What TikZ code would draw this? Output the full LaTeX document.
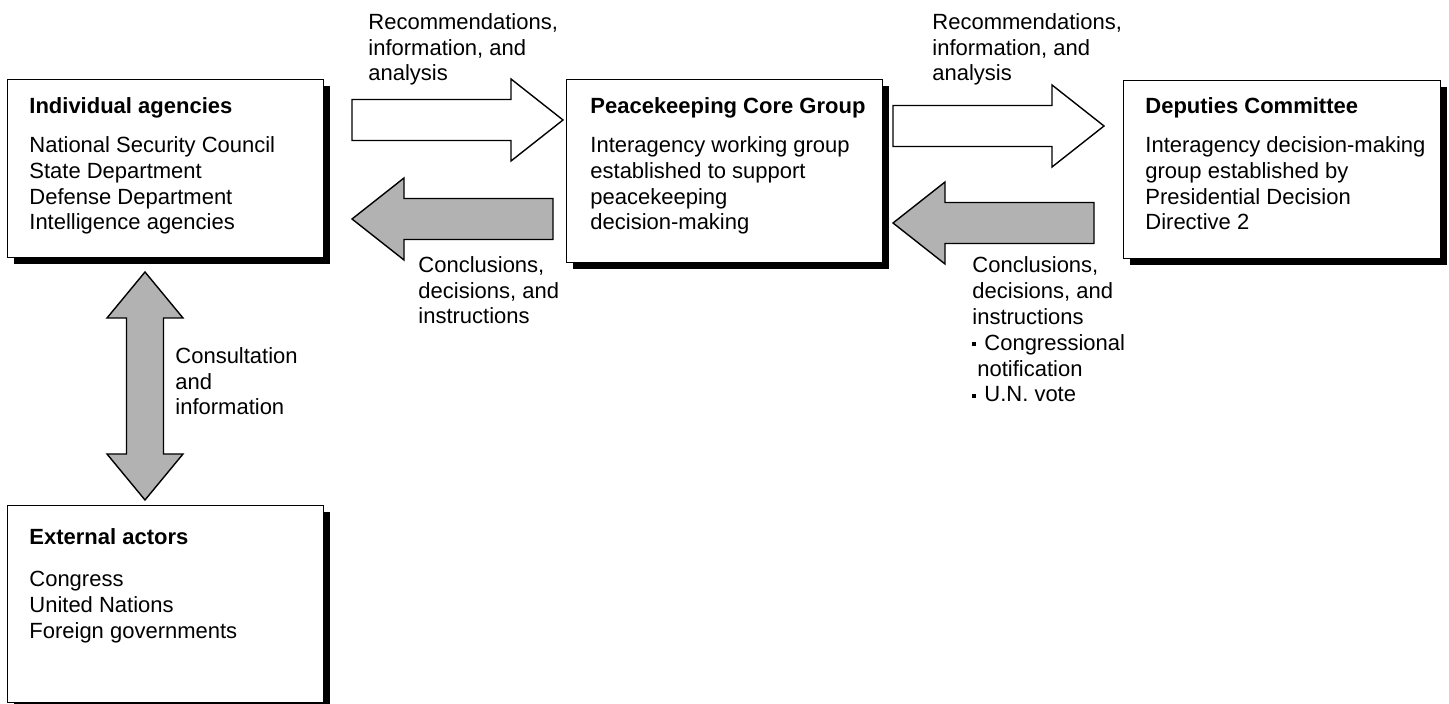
\documentclass[tikz,border=0pt]{standalone}
\usepackage{fontspec}
\setmainfont{Liberation Sans}
\usetikzlibrary{calc,shadows}

\tikzset{
  card/.style={draw, fill=white, line width=0.7pt, inner sep=0pt, anchor=north west,
    drop shadow={shadow xshift=3pt, shadow yshift=-3pt, fill=black, opacity=1}},
  lbl/.style={anchor=base west, align=left, inner sep=0pt},
  fwdarrow/.style={draw, line width=0.7pt, line join=miter, fill=white},
  backarrow/.style={fwdarrow, fill=black!30},
}
% block arrow from #2 (tail) to #3 (tip)
\newcommand{\bigarrow}[3]{%
  \coordinate (ah) at ($(#3)!26pt!(#2)$);
  \draw[#1] ($(#2)!10.25pt!90:(#3)$) -- ($(ah)!10.25pt!-90:(#2)$) -- ($(ah)!20.5pt!-90:(#2)$)
    -- (#3) -- ($(ah)!20.5pt!90:(#2)$) -- ($(ah)!10.25pt!90:(#2)$) -- ($(#2)!10.25pt!-90:(#3)$) -- cycle;
}
\newcommand{\sqbullet}{\rule[2pt]{2pt}{2pt}\hspace{4pt}}

\begin{document}
\begin{tikzpicture}[x=0.5pt, y=-0.5pt, font=\fontsize{11}{12.9}\selectfont]
	\useasboundingbox (0,0) rectangle (1449,704);
	% boxes
	\node[card, minimum width=158pt, minimum height=89pt] (ia) at (7,79) {};
	\node[card, minimum width=158pt, minimum height=91.5pt] (pcg) at (566,79) {};
	\node[card, minimum width=158.5pt, minimum height=89pt] (dc) at (1123,80) {};
	\node[card, minimum width=158pt, minimum height=98.5pt] (ea) at (7,505) {};
	% texts sit on the baseline of their last line
	\node[lbl] (ia-text) at ($(ia.north west)+(22,151)$) {\textbf{Individual agencies}\\[6.5pt]
		National Security Council\\State Department\\Defense Department\\Intelligence agencies};
	\node[lbl] (pcg-text) at ($(pcg.north west)+(24,151)$) {\textbf{Peacekeeping Core Group}\\[6.5pt]
		Interagency working group\\established to support\\peacekeeping\\decision-making};
	\node[lbl] (dc-text) at ($(dc.north west)+(22,150)$) {\textbf{Deputies Committee}\\[6.5pt]
		Interagency decision-making\\group established by\\Presidential Decision\\Directive 2};
	\node[lbl] (ea-text) at ($(ea.north west)+(22,133)$) {\textbf{External actors}\\[8pt]
		Congress\\United Nations\\Foreign governments};
	% arrows
	\coordinate (r1-tail) at (352,120);
	\coordinate (r1-tip) at (563,120);
	\coordinate (c1-tail) at (553,219);
	\coordinate (c1-tip) at (352,219);
	\coordinate (r2-tail) at (893,126);
	\coordinate (r2-tip) at (1104,126);
	\coordinate (c2-tail) at (1094,223);
	\coordinate (c2-tip) at (893,223);
	\bigarrow{fwdarrow}{r1-tail}{r1-tip}
	\bigarrow{backarrow}{c1-tail}{c1-tip}
	\bigarrow{fwdarrow}{r2-tail}{r2-tip}
	\bigarrow{backarrow}{c2-tail}{c2-tip}
	\coordinate (ca-top) at (145,272);
	\coordinate (ca-bot) at (145,500);
	\coordinate (h1) at ($(ca-top)!23pt!(ca-bot)$);
	\coordinate (h2) at ($(ca-bot)!23pt!(ca-top)$);
	\draw[backarrow] (ca-top) -- ($(h1)!19pt!90:(ca-top)$) -- ($(h1)!9.25pt!90:(ca-top)$)
		-- ($(h2)!9.25pt!-90:(ca-bot)$) -- ($(h2)!19pt!-90:(ca-bot)$) -- (ca-bot)
		-- ($(h2)!19pt!90:(ca-bot)$) -- ($(h2)!9.25pt!90:(ca-bot)$)
		-- ($(h1)!9.25pt!-90:(ca-top)$) -- ($(h1)!19pt!-90:(ca-top)$) -- cycle;
	% labels
	\node[lbl] (rec-a) at (368,81) {Recommendations,\\information, and\\analysis};
	\node[lbl] (rec-b) at (932,81) {Recommendations,\\information, and\\analysis};
	\node[lbl] (con-a) at (418,324) {Conclusions,\\decisions, and\\instructions};
	\node[lbl] (con-b) at (972,402) {Conclusions,\\decisions, and\\instructions\\
		\sqbullet Congressional\\\hspace*{2.5pt}notification\\\sqbullet U.N. vote};
	\node[lbl] (cons) at (175,415) {Consultation\\and\\information};
\end{tikzpicture}
\end{document}
